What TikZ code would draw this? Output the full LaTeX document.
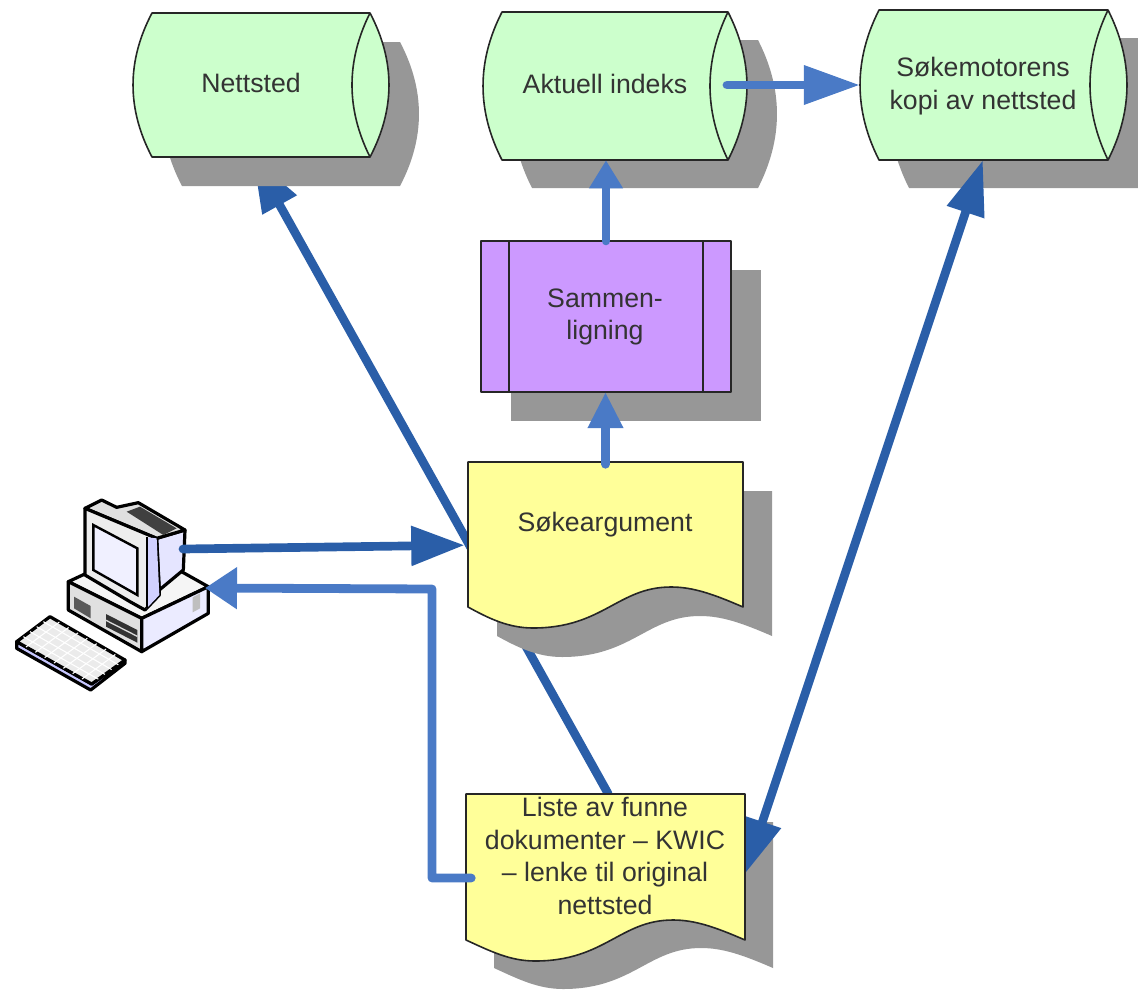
\documentclass[tikz,border=0pt]{standalone}
\usepackage{fontspec}
\setmainfont{Liberation Sans}
\usetikzlibrary{arrows.meta}
\definecolor{gronn}{HTML}{CCFFCC}
\definecolor{gul}{HTML}{FFFF99}
\definecolor{lilla}{HTML}{CC99FF}
\definecolor{skyggegra}{HTML}{979797}
\definecolor{morkbla}{HTML}{2A5EA8}
\definecolor{lysbla}{HTML}{4A7AC6}
\tikzset{
    kropp/.style = {inner sep = 0pt},
    skygge/.style = {fill = skyggegra},
    figur/.style = {draw = black!85, line width = 1.2pt, line join = round},
    tekst/.style = {align = center, text = black!80, font = \fontsize{20}{24.5}\selectfont},
    morkpil/.style = {draw = morkbla, line width = 6.5pt, line cap = round, line join = round},
    lyspil/.style = {draw = lysbla, line width = 6.6pt, line cap = round, line join = round},
    pcstrek/.style = {draw = black, line width = 2.4pt, line join = round}
}
\newcommand{\sylinder}[4]{({#1+19},#2) -- ({#3-19},#2)
    .. controls ({#3+6.3},{#2+(#4-#2)/3}) and ({#3+6.3},{#2+2*(#4-#2)/3}) .. ({#3-19},#4)
    -- ({#1+19},#4)
    .. controls ({#1-6.3},{#2+2*(#4-#2)/3}) and ({#1-6.3},{#2+(#4-#2)/3}) .. ({#1+19},#2) -- cycle}
\newcommand{\sylinderbue}[4]{({#3-19},#2)
    .. controls ({#3-43},{#2+(#4-#2)/3}) and ({#3-43},{#2+2*(#4-#2)/3}) .. ({#3-19},#4)}
\newcommand{\dokument}[4]{(#1,#2) -- (#3,#2) -- (#3,#4)
    .. controls ({#3-30},{#4-13}) and ({#3-50},{#4-20}) .. ({#3-72},{#4-20})
    .. controls ({#3-125},{#4-20}) and ({#3-140},{#4+21}) .. ({#3-210},{#4+21})
    .. controls ({#3-235},{#4+21}) and ({#3-255},{#4+11}) .. (#1,#4) -- cycle}
\begin{document}
\begin{tikzpicture}[x = 0.75pt, y = -0.75pt]
    \useasboundingbox (0, 0) rectangle (1138, 989);
    \clip (0, 0) rectangle (1138, 989);
    % nodes that the connectors end on
    \node[kropp, minimum width = 192pt, minimum height = 108pt] (nettsted) at (261, 85) {};
    \node[kropp, minimum width = 198pt, minimum height = 111pt] (aktuell) at (615, 86) {};
    \node[kropp, minimum width = 200pt, minimum height = 112.5pt] (kopi) at (993.5, 85) {};
    \node[kropp, minimum width = 187.5pt, minimum height = 113pt] (sammen) at (606, 316.5) {};
    \node[kropp, minimum width = 206pt, minimum height = 109pt] (sokearg) at (605.5, 534.5) {};
    \node[kropp, minimum width = 209pt, minimum height = 109.5pt] (liste) at (605.5, 867) {};
    \coordinate (pcut) at (183, 549);
    \coordinate (pcinn) at (205, 588);
    \coordinate (aktuellut) at (727, 85);
    % this one runs behind the shadows
    \draw[morkpil, -{Triangle[length = 41pt, width = 28pt]}] ([xshift = 2pt]liste.north) -- ([xshift = -6pt]nettsted.south);
    % shadows
    \fill[skygge, shift = {(30, 29)}] \sylinder{133}{13}{389}{157};
    \fill[skygge, shift = {(30, 28)}] \sylinder{483}{12}{747}{160};
    \fill[skygge, shift = {(30, 28)}] \sylinder{860}{10}{1127}{160};
    \fill[skygge] (511, 270) rectangle (761, 421);
    \fill[skygge, shift = {(29, 29)}] \dokument{468}{462}{743}{607};
    \fill[skygge, shift = {(28, 28)}] \dokument{466}{794}{745}{940};
    \draw[morkpil, {Triangle[length = 41pt, width = 28pt]}-{Triangle[length = 41pt, width = 28pt]}] ([yshift = -5pt]liste.east) -- ([xshift = -8pt]kopi.south);
    % figures
    \path[figur, fill = gronn] \sylinder{133}{13}{389}{157};
    \draw[figur] \sylinderbue{133}{13}{389}{157};
    \path[figur, fill = gronn] \sylinder{483}{12}{747}{160};
    \draw[figur] \sylinderbue{483}{12}{747}{160};
    \path[figur, fill = gronn] \sylinder{860}{10}{1127}{160};
    \draw[figur] \sylinderbue{860}{10}{1127}{160};
    \path[figur, fill = lilla] (481, 241) rectangle (731, 392);
    \draw[figur] (509, 241) -- (509, 392);
    \draw[figur] (703, 241) -- (703, 392);
    \path[figur, fill = gul] \dokument{468}{462}{743}{607};
    \path[figur, fill = gul] \dokument{466}{794}{745}{940};
    % computer, in its own coordinates
    \begin{scope}[shift = {(0, 480)}, x = 0.25pt, y = -0.25pt]
        \path[pcstrek, fill = black!4] (205, 305) -- (420, 205) -- (625, 320) -- (425, 415) -- cycle;
        \path[pcstrek, fill = black!12] (205, 305) -- (425, 415) -- (425, 515) -- (205, 390) -- cycle;
        \path[pcstrek, fill = blue!8] (425, 415) -- (625, 320) -- (625, 400) -- (425, 515) -- cycle;
        \fill[black!65] (222, 350) -- (272, 378) -- (272, 415) -- (222, 385) -- cycle;
        \fill[black!80] (318, 402) -- (412, 450) -- (412, 488) -- (318, 440) -- cycle;
        \draw[black!15, line width = 1pt] (318, 421) -- (412, 469);
        \fill[black!25] (578, 352) -- (600, 340) -- (600, 385) -- (578, 397) -- cycle;
        \path[pcstrek, fill = blue!10] (470, 175) -- (555, 150) -- (550, 270) -- (478, 330) -- cycle;
        \path[pcstrek, fill = black!12] (255, 85) -- (305, 60) -- (350, 82) -- (415, 68) -- (555, 150) -- (470, 175) -- cycle;
        \fill[black!75] (380, 95) -- (420, 80) -- (530, 145) -- (490, 165) -- cycle;
        \path[pcstrek, fill = black!7] (255, 85) -- (470, 175) -- (478, 345) -- (435, 390) -- (390, 365) -- (255, 285) -- cycle;
        \fill[blue!18] (440, 172) -- (470, 175) -- (478, 345) -- (440, 385) -- cycle;
        \draw[pcstrek, line width = 1.6pt] (440, 172) -- (440, 385);
        \path[draw = black, line width = 1.8pt, fill = blue!6] (280, 135) -- (412, 205) -- (412, 345) -- (280, 270) -- cycle;
        \path[pcstrek, fill = blue!22] (50, 485) -- (50, 505) -- (272, 630) -- (375, 550) -- (375, 540) -- (275, 612) -- cycle;
        \path[pcstrek, fill = black!8] (50, 485) -- (150, 410) -- (375, 540) -- (275, 612) -- cycle;
        % keys
        \foreach \k in {1, ..., 4}
            \draw[white, line width = 0.8pt] ({50 + 20 * \k}, {485 - 15 * \k}) -- ({275 + 20 * \k}, {612 - 14.4 * \k});
        \foreach \k in {1, ..., 7}
            \draw[white, line width = 0.8pt] ({50 + 28 * \k}, {485 + 16 * \k}) -- ({150 + 28 * \k}, {410 + 16.2 * \k});
    \end{scope}
    % connectors on top of the figures
    \draw[morkpil, -{Triangle[length = 40pt, width = 28.5pt]}] (pcut) -- ([xshift = -2.5pt, yshift = -8pt]sokearg.west);
    \draw[lyspil, -{Triangle[length = 24pt, width = 30pt]}] ([xshift = 4pt, yshift = -8.25pt]liste.west) -- (432, 878) -- (432, 589) -- (pcinn);
    \draw[lyspil, -{Triangle[length = 42pt, width = 28pt]}] (aktuellut) -- (kopi.west);
    \draw[lyspil, -{Triangle[length = 21pt, width = 24pt]}] (sammen.north) -- (sammen.north |- aktuell.south);
    \draw[lyspil, -{Triangle[length = 27pt, width = 25pt]}] ([yshift = -2pt]sokearg.north) -- (sokearg.north |- sammen.south);
    % texts
    \node[tekst] (nettstedtekst) at (251, 83) {Nettsted};
    \node[tekst] (aktuelltekst) at (605, 84) {Aktuell indeks};
    \node[tekst] (kopitekst) at (983, 86) {Søkemotorens\\kopi av nettsted};
    \node[tekst] (sammentekst) at (605, 317) {Sammen-\\ligning};
    \node[tekst] (sokeargtekst) at (605, 525) {Søkeargument};
    \node[tekst] (listetekst) at (605, 856) {Liste av funne\\dokumenter – KWIC\\– lenke til original\\nettsted};
\end{tikzpicture}
\end{document}
